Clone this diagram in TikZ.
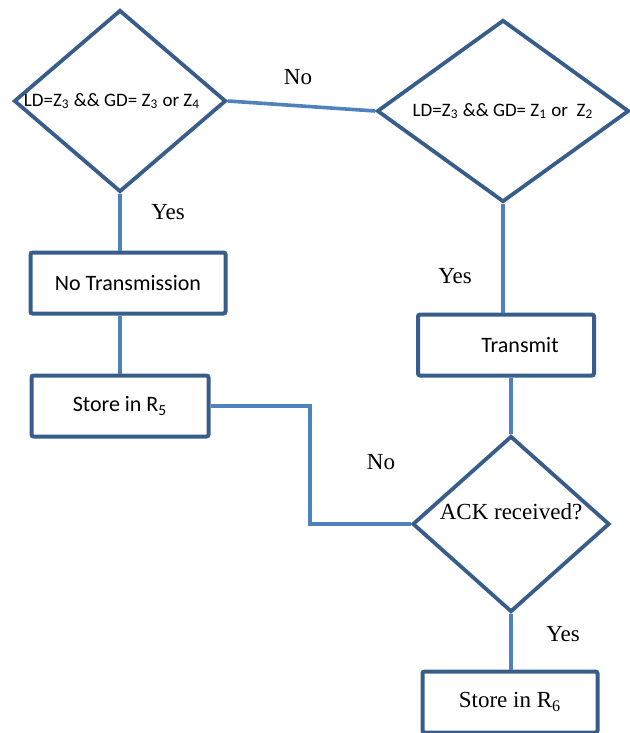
\documentclass[tikz,border=0pt]{standalone}
\usepackage{fontspec}
\setmainfont{Liberation Serif}
\newfontfamily\calibri{Carlito}
\usetikzlibrary{shapes.geometric}
\definecolor{edgeblue}{RGB}{56,93,138}
\definecolor{lineblue}{RGB}{79,129,189}

\begin{document}
\begin{tikzpicture}[x=0.5pt,y=-0.5pt,
    decision/.style={diamond,draw=edgeblue,line width=1.9pt,aspect=1.2,inner sep=0pt},
    stepbox/.style={rectangle,draw=edgeblue,line width=2pt,rounded corners=1pt,minimum height=30.5pt,inner sep=0pt},
    link/.style={draw=lineblue,line width=1.8pt},
    answer/.style={font=\fontsize{11.5}{13}\selectfont}]
  \useasboundingbox (0,0) rectangle (629,733);

  % decisions
  \node[decision,minimum width=106pt,minimum height=91pt,font=\calibri\fontsize{9.5}{11}\selectfont]
    (zone1) at (120,101) {LD=Z\textsubscript{3} \&\& GD= Z\textsubscript{3} or Z\textsubscript{4}\hspace*{8pt}};
  \node[decision,minimum width=126pt,minimum height=91pt,font=\calibri\fontsize{9.5}{11}\selectfont]
    (zone2) at (503,111) {LD=Z\textsubscript{3} \&\& GD= Z\textsubscript{1} or\ \ Z\textsubscript{2}};
  \node[decision,minimum width=98.5pt,minimum height=88pt,text depth=12pt,font=\fontsize{11.5}{13}\selectfont]
    (ack) at (511,524) {ACK received?};

  % boxes
  \node[stepbox,minimum width=97.5pt,font=\calibri\fontsize{11}{13}\selectfont] (notx) at (128,283) {No Transmission};
  \node[stepbox,minimum width=88.5pt,font=\calibri\fontsize{11}{13}\selectfont] (store5) at (120,406) {Store in R\textsubscript{5}};
  \node[stepbox,minimum width=88pt,font=\calibri\fontsize{11}{13}\selectfont] (tx) at (506,345) {\hspace*{14pt}Transmit};
  \node[stepbox,minimum width=87.5pt,font=\fontsize{11.5}{13}\selectfont] (store6) at (510,702) {Store in R\textsubscript{6}};

  % connectors
  \coordinate (bend) at (310,406);
  \draw[link] (zone1.east) -- (zone2.west);
  \draw[link] (zone1.south) -- (zone1.south |- notx.north);
  \draw[link] (store5.north |- notx.south) -- (store5.north);
  \draw[link] (store5.east) -- (bend) |- (ack.west);
  \draw[link] (zone2.south) -- (zone2.south |- tx.north);
  \draw[link] (ack.north |- tx.south) -- (ack.north);
  \draw[link] (ack.south) -- (ack.south |- store6.north);

  % answers
  \node[answer] (no1) at (298,77) {No};
  \node[answer] (yes1) at (168,212) {Yes};
  \node[answer] (yes2) at (455,276) {Yes};
  \node[answer] (no2) at (381,462) {No};
  \node[answer] (yes3) at (563,634) {Yes};
\end{tikzpicture}
\end{document}
